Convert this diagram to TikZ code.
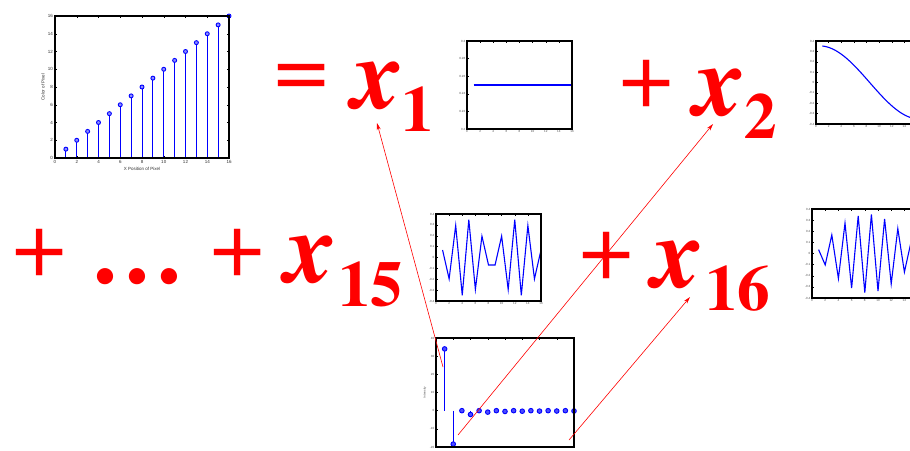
\documentclass[tikz,border=0pt]{standalone}
\usepackage{fontspec}
\newfontfamily\bigser{texgyretermes}[Extension=.otf, UprightFont=*-regular, BoldFont=*-bold, ItalicFont=*-italic, BoldItalicFont=*-bolditalic]
\newfontfamily\axfont{Liberation Sans}
\usetikzlibrary{arrows.meta}
\begin{document}
\begin{tikzpicture}[x=1pt,y=-1pt,
  big/.style={inner sep=0pt, anchor=base west, text=red, font=\bigser\fontsize{96}{96}\selectfont},
  bigx/.style={big, font=\bigser\fontsize{101}{101}\selectfont\bfseries\itshape},
  bigsub/.style={big, font=\bigser\fontsize{65}{65}\selectfont\bfseries},
  frame/.style={draw=black, line width=1.2pt},
  tick/.style={black, line width=0.5pt},
  lab/.style={inner sep=0pt, font=\axfont\fontsize{3}{3}\selectfont, text=black!70},
  labone/.style={inner sep=0pt, font=\axfont\fontsize{4.5}{4.5}\selectfont, text=black!80},
  curve/.style={blue, line width=1.1pt},
  stem/.style={blue, line width=1pt},
  mk/.style={draw=blue, fill=blue!45, line width=0.9pt},
  mkb/.style={draw=blue, fill=blue!70, line width=0.9pt},
  arr/.style={red, line width=0.6pt, -{Stealth[length=7pt,width=4pt]}}
]
\useasboundingbox[fill=white] (0,0) rectangle (910,450);

% ---------- plot 1: ramp ----------
\begin{scope}[shift={(55,158)}, x={(10.875pt,0pt)}, y={(0pt,8.875pt)}]
  \foreach \t in {0,2,...,16} {
    \draw[tick] (\t,0) -- ++(0pt,2pt);
    \draw[tick] (\t,16) -- ++(0pt,-2pt);
    \draw[tick] (0,\t) -- ++(2pt,0pt);
    \draw[tick] (16,\t) -- ++(-2pt,0pt);
    \node[labone, below=2pt] (pax\t) at (\t,0) {\t};
    \node[labone, left=2pt] (pay\t) at (0,\t) {\t};
  }
  \foreach \k in {1,...,16} {
    \draw[stem] (\k,0) -- (\k,\k);
    \draw[mk] (\k,\k) circle[radius=2pt];
  }
  \draw[frame] (0,0) rectangle (16,16);
  \node[labone, below=9pt] (paxl) at (8,0) {X Position of Pixel};
  \node[labone, rotate=90] (payl) at (-1.1,8) {Color of Pixel};
\end{scope}

% ---------- plot 2: x1 basis ----------
\begin{scope}[shift={(467,129)}, x={(6.5625pt,0pt)}, y={(0pt,8.8pt)}]
  \foreach \t in {0,2,...,16} {
    \draw[tick] (\t,0) -- ++(0pt,1.5pt);
    \draw[tick] (\t,10) -- ++(0pt,-1.5pt);
    \node[lab, below=1.5pt] (pbx\t) at (\t,0) {\t};
  }
  \foreach \t/\l in {0/0.2,2/0.22,4/0.24,6/0.26,8/0.28,10/0.3} {
    \draw[tick] (0,\t) -- ++(1.5pt,0pt);
    \draw[tick] (16,\t) -- ++(-1.5pt,0pt);
    \node[lab, left=1.5pt] (pby\t) at (0,\t) {\l};
  }
  \draw[curve] (1,5) -- (16,5);
  \draw[frame] (0,0) rectangle (16,10);
\end{scope}

% ---------- plot 3: x2 basis ----------
\begin{scope}[shift={(816,124)}, x={(6.3125pt,0pt)}, y={(0pt,10.375pt)}]
  \foreach \t in {0,2,...,14} {
    \draw[tick] (\t,0) -- ++(0pt,1.5pt);
    \draw[tick] (\t,8) -- ++(0pt,-1.5pt);
    \node[lab, below=1.5pt] (pcx\t) at (\t,0) {\t};
  }
  \foreach \t/\l in {0/-0.4,1/-0.3,2/-0.2,3/-0.1,4/0,5/0.1,6/0.2,7/0.3,8/0.4} {
    \draw[tick] (0,\t) -- ++(1.5pt,0pt);
    \node[lab, left=1.5pt] (pcy\t) at (0,\t) {\l};
  }
  \draw[curve] plot[samples at={1,1.25,...,16}] (\x,{(0.35355*cos(5.625*(2*\x-1))+0.4)*10});
  \draw[frame] (0,0) rectangle (16,8);
\end{scope}

% ---------- plot 4: x15 basis ----------
\begin{scope}[shift={(436,301)}, x={(6.5625pt,0pt)}, y={(0pt,10.875pt)}]
  \foreach \t in {0,2,...,16} {
    \draw[tick] (\t,0) -- ++(0pt,1.5pt);
    \draw[tick] (\t,8) -- ++(0pt,-1.5pt);
    \node[lab, below=1.5pt] (pdx\t) at (\t,0) {\t};
  }
  \foreach \t/\l in {0/-0.4,1/-0.3,2/-0.2,3/-0.1,4/0,5/0.1,6/0.2,7/0.3,8/0.4} {
    \draw[tick] (0,\t) -- ++(1.5pt,0pt);
    \draw[tick] (16,\t) -- ++(-1.5pt,0pt);
    \node[lab, left=1.5pt] (pdy\t) at (0,\t) {\l};
  }
  \draw[curve] plot[samples at={1,...,16}] (\x,{(0.35355*cos(78.75*(2*\x-1))+0.4)*10});
  \draw[frame] (0,0) rectangle (16,8);
\end{scope}

% ---------- plot 5: x16 basis ----------
\begin{scope}[shift={(812,298)}, x={(6.6pt,0pt)}, y={(0pt,11.125pt)}]
  \foreach \t in {0,2,...,14} {
    \draw[tick] (\t,0) -- ++(0pt,1.5pt);
    \draw[tick] (\t,8) -- ++(0pt,-1.5pt);
    \node[lab, below=1.5pt] (pex\t) at (\t,0) {\t};
  }
  \foreach \t/\l in {0/-0.4,1/-0.3,2/-0.2,3/-0.1,4/0,5/0.1,6/0.2,7/0.3,8/0.4} {
    \draw[tick] (0,\t) -- ++(1.5pt,0pt);
    \node[lab, left=1.5pt] (pey\t) at (0,\t) {\l};
  }
  \draw[curve] plot[samples at={1,...,16}] (\x,{(0.35355*cos(84.375*(2*\x-1))+0.4)*10});
  \draw[frame] (0,0) rectangle (16,8);
\end{scope}

% ---------- plot 6: DCT coefficients ----------
\begin{scope}[shift={(436,447)}, x={(8.625pt,0pt)}, y={(0pt,1.8167pt)}]
  \foreach \t in {0,2,...,16} {
    \draw[tick] (\t,0) -- ++(0pt,1.5pt);
    \draw[tick] (\t,60) -- ++(0pt,-1.5pt);
  }
  \foreach \t/\l in {0/-20,10/-10,20/0,30/10,40/20,50/30,60/40} {
    \draw[tick] (0,\t) -- ++(1.5pt,0pt);
    \draw[tick] (16,\t) -- ++(-1.5pt,0pt);
    \node[lab, left=1.5pt] (pfy\t) at (0,\t) {\l};
  }
  \foreach \k/\v in {1/34,2/-18.39,3/0,4/-2.10,5/0,6/-0.796,7/0,8/-0.439,9/0,10/-0.296,11/0,12/-0.227,13/0,14/-0.193,15/0,16/-0.178} {
    \draw[stem] (\k,20) -- (\k,{\v+20});
    \draw[mkb] (\k,{\v+20}) circle[radius=2.3pt];
  }
  \draw[frame] (0,0) rectangle (16,60);
  \node[lab, rotate=90] (pfyl) at (-1.3,30) {Intensity};
\end{scope}

% ---------- big red formula ----------
\node[big] (eq) at (274,99) {=};
\node[bigx] (x1) at (352,108) {x};
\node[bigsub] (s1) at (401,131) {1};
\node[big] (pl1) at (619,107) {+};
\node[bigx] (x2) at (694,115) {x};
\node[bigsub] (s2) at (744,138) {2};

\node[big] (pl2) at (12,276) {+};
\node[big, font=\bigser\fontsize{96}{96}\selectfont\bfseries] (dots) at (89,283) {…};
\node[big] (pl3) at (210,276) {+};
\node[bigx] (x15) at (285,282) {x};
\node[bigsub] (s15) at (338,306) {15};
\node[big] (pl4) at (579,279) {+};
\node[bigx] (x16) at (652,287) {x};
\node[bigsub] (s16) at (705,310) {16};

% ---------- red arrows ----------
\coordinate (a1s) at (443,367);
\coordinate (a1e) at (377,123);
\coordinate (a2s) at (458,435);
\coordinate (a2e) at (713,124);
\coordinate (a3s) at (569,440);
\coordinate (a3e) at (690,297);
\draw[arr] (a1s) -- (a1e);
\draw[arr] (a2s) -- (a2e);
\draw[arr] (a3s) -- (a3e);
\end{tikzpicture}
\end{document}
